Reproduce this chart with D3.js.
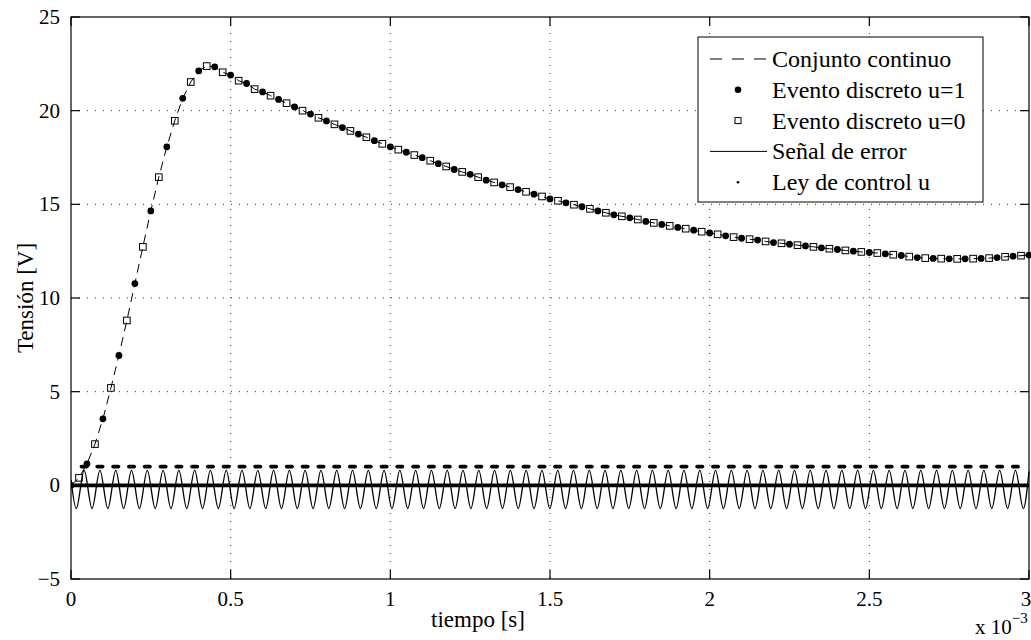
<!DOCTYPE html>
<html>
<head>
<meta charset="utf-8">
<script src="https://cdn.jsdelivr.net/npm/d3@7"></script>
<style>
  body { margin: 0; background: #fff; }
  svg text { font-family: "Liberation Serif", "Times New Roman", serif; fill: #000; }
</style>
</head>
<body>
<svg id="chart" width="1031" height="640"></svg>
<script>
// time of each discrete event [ms]
var tiempo = [0, 0.025, 0.05, 0.075, 0.1, 0.125, 0.15, 0.175, 0.2, 0.225, 0.25, 0.275, 0.3, 0.325, 0.35, 0.375, 0.4, 0.425, 0.45, 0.475,
  0.5, 0.525, 0.55, 0.575, 0.6, 0.625, 0.65, 0.675, 0.7, 0.725, 0.75, 0.775, 0.8, 0.825, 0.85, 0.875, 0.9, 0.925, 0.95, 0.975,
  1.0, 1.025, 1.05, 1.075, 1.1, 1.125, 1.15, 1.175, 1.2, 1.225, 1.25, 1.275, 1.3, 1.325, 1.35, 1.375, 1.4, 1.425, 1.45, 1.475,
  1.5, 1.525, 1.55, 1.575, 1.6, 1.625, 1.65, 1.675, 1.7, 1.725, 1.75, 1.775, 1.8, 1.825, 1.85, 1.875, 1.9, 1.925, 1.95, 1.975,
  2.0, 2.025, 2.05, 2.075, 2.1, 2.125, 2.15, 2.175, 2.2, 2.225, 2.25, 2.275, 2.3, 2.325, 2.35, 2.375, 2.4, 2.425, 2.45, 2.475,
  2.5, 2.525, 2.55, 2.575, 2.6, 2.625, 2.65, 2.675, 2.7, 2.725, 2.75, 2.775, 2.8, 2.825, 2.85, 2.875, 2.9, 2.925, 2.95, 2.975, 3.0];
// voltage at each event [V]
var tension = [0, 0.4, 1.15, 2.2, 3.55, 5.2, 6.93, 8.8, 10.77, 12.73, 14.65, 16.45, 18.07, 19.46, 20.66, 21.53, 22.12, 22.38, 22.34, 22.05,
  21.9, 21.6, 21.45, 21.15, 21.0, 20.8, 20.6, 20.4, 20.2, 20.0, 19.82, 19.62, 19.45, 19.27, 19.1, 18.92, 18.75, 18.58, 18.4, 18.23,
  18.07, 17.92, 17.78, 17.63, 17.49, 17.33, 17.17, 17.02, 16.86, 16.73, 16.6, 16.45, 16.29, 16.17, 16.04, 15.92, 15.79, 15.67, 15.54, 15.42,
  15.29, 15.19, 15.08, 14.98, 14.87, 14.76, 14.65, 14.55, 14.44, 14.36, 14.28, 14.19, 14.09, 14.01, 13.93, 13.85, 13.77, 13.7, 13.62, 13.54,
  13.47, 13.4, 13.32, 13.25, 13.19, 13.14, 13.09, 13.02, 12.96, 12.92, 12.87, 12.82, 12.78, 12.73, 12.68, 12.63, 12.59, 12.54, 12.5, 12.46,
  12.43, 12.4, 12.36, 12.31, 12.27, 12.21, 12.16, 12.13, 12.11, 12.1, 12.09, 12.09, 12.09, 12.1, 12.11, 12.13, 12.16, 12.2, 12.23, 12.26, 12.29];
// control value at each event (1 = dot, 0 = square)
var evento = [1, 0, 1, 0, 1, 0, 1, 0, 1, 0, 1, 0, 1, 0, 1, 0, 1, 0, 1, 0,
  1, 0, 1, 0, 1, 0, 1, 0, 1, 0, 1, 0, 1, 0, 1, 0, 1, 0, 1, 0,
  1, 0, 1, 0, 1, 0, 1, 0, 1, 0, 1, 0, 1, 0, 1, 0, 1, 0, 1, 0,
  1, 0, 1, 0, 1, 0, 1, 0, 1, 0, 1, 0, 1, 0, 1, 0, 1, 0, 1, 0,
  1, 0, 1, 0, 1, 0, 1, 0, 1, 0, 1, 0, 1, 0, 1, 0, 1, 0, 1, 0,
  1, 0, 1, 0, 1, 0, 1, 0, 1, 0, 1, 0, 1, 0, 1, 0, 1, 0, 1, 0, 1];

// error signal: times of maxima / minima [ms] and their levels [V]
var errPeakT = [0.0412, 0.0906, 0.1401, 0.1895, 0.2389, 0.2884, 0.3378, 0.3872, 0.4366, 0.4861,
  0.5355, 0.5849, 0.6344, 0.6838, 0.7332, 0.7827, 0.8321, 0.8815, 0.9310, 0.9804,
  1.0298, 1.0792, 1.1287, 1.1781, 1.2275, 1.2770, 1.3264, 1.3758, 1.4252, 1.4747,
  1.5241, 1.5735, 1.6230, 1.6724, 1.7218, 1.7713, 1.8207, 1.8701, 1.9195, 1.9690,
  2.0184, 2.0678, 2.1173, 2.1667, 2.2161, 2.2656, 2.3150, 2.3644, 2.4138, 2.4633,
  2.5127, 2.5621, 2.6116, 2.6610, 2.7104, 2.7599, 2.8093, 2.8587, 2.9081, 2.9576];
var errTroughT = [0.0165, 0.0659, 0.1154, 0.1648, 0.2142, 0.2637, 0.3131, 0.3625, 0.4119, 0.4614,
  0.5108, 0.5602, 0.6097, 0.6591, 0.7085, 0.7580, 0.8074, 0.8568, 0.9063, 0.9557,
  1.0051, 1.0545, 1.1040, 1.1534, 1.2028, 1.2523, 1.3017, 1.3511, 1.4005, 1.4500,
  1.4994, 1.5488, 1.5983, 1.6477, 1.6971, 1.7466, 1.7960, 1.8454, 1.8948, 1.9443,
  1.9937, 2.0431, 2.0926, 2.1420, 2.1914, 2.2409, 2.2903, 2.3397, 2.3891, 2.4386,
  2.4880, 2.5374, 2.5869, 2.6363, 2.6857, 2.7352, 2.7846, 2.8340, 2.8834, 2.9329, 2.9823];
var errPeakV = 0.8, errTroughV = -1.24;
var errStart = [0, 0.3], errEnd = [3.0, 0.74];

var xTicks = [0, 0.5, 1, 1.5, 2, 2.5, 3];
var yTicks = [-5, 0, 5, 10, 15, 20, 25];
var legendLabels = ['Conjunto continuo', 'Evento discreto u=1', 'Evento discreto u=0', 'Señal de error', 'Ley de control u'];

var svg = d3.select('#chart');
var L = 71, R = 1029, T = 17, B = 579;
var x = d3.scaleLinear().domain([0, 3]).range([L, R]);
var y = d3.scaleLinear().domain([-5, 25]).range([B, T]);

svg.append('rect').attr('width', 1031).attr('height', 640).attr('fill', '#fff');
svg.append('defs').append('clipPath').attr('id', 'plot-clip')
  .append('rect').attr('x', L).attr('y', T - 4).attr('width', R - L + 4).attr('height', B - T + 8);

// grid
var grid = svg.append('g').attr('stroke', '#000').attr('stroke-width', 0.8).attr('stroke-dasharray', '1,7');
grid.selectAll('.gx').data(xTicks.slice(1, -1)).join('line')
  .attr('x1', function(d) { return x(d); }).attr('x2', function(d) { return x(d); })
  .attr('y1', T).attr('y2', B);
grid.selectAll('.gy').data(yTicks.slice(1, -1)).join('line')
  .attr('y1', function(d) { return y(d); }).attr('y2', function(d) { return y(d); })
  .attr('x1', L).attr('x2', R);

var plot = svg.append('g').attr('clip-path', 'url(#plot-clip)');

// error signal through its extrema
var errPts = [errStart];
errPeakT.forEach(function(t) { errPts.push([t, errPeakV]); });
errTroughT.forEach(function(t) { errPts.push([t, errTroughV]); });
errPts.push(errEnd);
errPts.sort(function(a, b) { return a[0] - b[0]; });
plot.append('path').datum(errPts)
  .attr('fill', 'none').attr('stroke', '#000').attr('stroke-width', 1.3)
  .attr('d', d3.line().x(function(d) { return x(d[0]); }).y(function(d) { return y(d[1]); }).curve(d3.curveMonotoneX));

// control law: u=0 baseline and u=1 pulses at the error maxima
plot.append('line').attr('x1', x(0)).attr('x2', x(3)).attr('y1', y(0)).attr('y2', y(0))
  .attr('stroke', '#000').attr('stroke-width', 3.6);
plot.selectAll('.pulse').data(errPeakT).join('line')
  .attr('x1', function(d) { return x(d) - 2.6; }).attr('x2', function(d) { return x(d) + 2.6; })
  .attr('y1', y(1)).attr('y2', y(1))
  .attr('stroke', '#000').attr('stroke-width', 3.8).attr('stroke-linecap', 'round');

// continuous set
var pts = tiempo.map(function(t, i) { return { t: t, v: tension[i], u: evento[i] }; });
plot.append('path').datum(pts)
  .attr('fill', 'none').attr('stroke', '#000').attr('stroke-width', 1).attr('stroke-dasharray', '9,6')
  .attr('d', d3.line().x(function(d) { return x(d.t); }).y(function(d) { return y(d.v); }));

// discrete events
plot.selectAll('.dot').data(pts.filter(function(d) { return d.u === 1; })).join('circle')
  .attr('cx', function(d) { return x(d.t); }).attr('cy', function(d) { return y(d.v); })
  .attr('r', 3.4).attr('fill', '#000');
plot.selectAll('.sq').data(pts.filter(function(d) { return d.u === 0; })).join('rect')
  .attr('x', function(d) { return x(d.t) - 3.3; }).attr('y', function(d) { return y(d.v) - 3.3; })
  .attr('width', 6.6).attr('height', 6.6)
  .attr('fill', 'none').attr('stroke', '#000').attr('stroke-width', 1);

// axes box and ticks
svg.append('rect').attr('x', L).attr('y', T).attr('width', R - L).attr('height', B - T)
  .attr('fill', 'none').attr('stroke', '#000').attr('stroke-width', 1.2);
var tk = svg.append('g').attr('stroke', '#000').attr('stroke-width', 1.2);
xTicks.forEach(function(d) {
  tk.append('line').attr('x1', x(d)).attr('x2', x(d)).attr('y1', B).attr('y2', B - 9);
  tk.append('line').attr('x1', x(d)).attr('x2', x(d)).attr('y1', T).attr('y2', T + 9);
});
yTicks.forEach(function(d) {
  tk.append('line').attr('x1', L).attr('x2', L + 9).attr('y1', y(d)).attr('y2', y(d));
  tk.append('line').attr('x1', R).attr('x2', R - 9).attr('y1', y(d)).attr('y2', y(d));
});

svg.selectAll('.xl').data(xTicks).join('text')
  .attr('x', function(d) { return d === 3 ? x(d) - 3 : x(d); }).attr('y', 606)
  .attr('text-anchor', 'middle').attr('font-size', 21)
  .text(function(d) { return d3.format('~g')(d); });
svg.selectAll('.yl').data(yTicks).join('text')
  .attr('x', 60).attr('y', function(d) { return y(d) + 7; })
  .attr('text-anchor', 'end').attr('font-size', 21)
  .text(function(d) { return d < 0 ? '\u2212' + Math.abs(d) : d; });

svg.append('text').attr('x', 478).attr('y', 627).attr('text-anchor', 'middle').attr('font-size', 23).text('tiempo [s]');
svg.append('text').attr('transform', 'translate(33,298) rotate(-90)').attr('text-anchor', 'middle').attr('font-size', 23).text('Tensión [V]');
var sci = svg.append('text').attr('x', 975).attr('y', 634).attr('font-size', 21);
sci.append('tspan').text('x 10');
sci.append('tspan').attr('dy', -11).attr('font-size', 15).text('\u22123');

// legend
var lg = svg.append('g');
lg.append('rect').attr('x', 698).attr('y', 37).attr('width', 285).attr('height', 165)
  .attr('fill', '#fff').attr('stroke', '#000').attr('stroke-width', 1);
legendLabels.forEach(function(lab, i) {
  var by = 67 + i * 30.8, cy = by - 8;
  lg.append('text').attr('x', 772).attr('y', by).attr('font-size', 24).text(lab);
  if (i === 0) lg.append('line').attr('x1', 710).attr('x2', 767).attr('y1', cy).attr('y2', cy)
    .attr('stroke', '#000').attr('stroke-width', 1).attr('stroke-dasharray', '12,10');
  if (i === 1) lg.append('circle').attr('cx', 738).attr('cy', cy).attr('r', 3.3).attr('fill', '#000');
  if (i === 2) lg.append('rect').attr('x', 735).attr('y', cy - 3).attr('width', 6).attr('height', 6)
    .attr('fill', 'none').attr('stroke', '#000');
  if (i === 3) lg.append('line').attr('x1', 710).attr('x2', 767).attr('y1', cy).attr('y2', cy)
    .attr('stroke', '#000').attr('stroke-width', 1);
  if (i === 4) lg.append('circle').attr('cx', 738).attr('cy', cy).attr('r', 1.3).attr('fill', '#000');
});
</script>
</body>
</html>
